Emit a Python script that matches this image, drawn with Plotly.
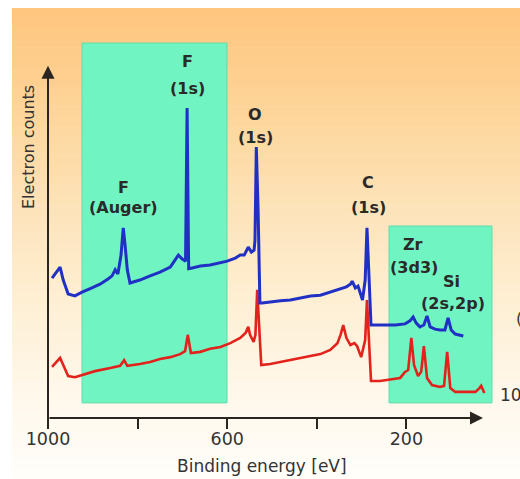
import plotly.graph_objects as go

# ---------------- data (binding energy in eV, counts in arbitrary units) ----------------
blue_energy = [991, 982, 973, 966, 955, 940, 924, 902, 884, 866, 857, 850, 844, 837, 832, 828, 823, 817,
               795, 772, 750, 727, 716, 709, 701, 693, 689.5, 686, 678, 660, 638, 615, 600, 582, 571, 562,
               553, 546, 540, 538, 535, 531, 527, 522, 504, 481, 459, 437, 414, 392, 370, 347, 334, 325,
               321, 314, 308, 298, 292, 288, 284, 279, 270, 248, 225, 203, 192, 185, 178, 170, 161, 154,
               147, 136, 125, 114, 107, 100, 91, 73]
blue_counts = [37.0, 38.6, 39.9, 36.5, 32.8, 32.3, 33.3, 34.4, 35.4, 36.8, 37.6, 39.2, 38.1, 43.1, 50.3, 45.8, 39.2, 35.7,
               36.5, 37.6, 38.6, 39.9, 41.8, 43.1, 42.1, 41.5, 82.0, 39.5, 39.7, 40.2, 40.5, 41.0, 41.5, 42.3, 43.1, 43.1,
               45.2, 43.9, 44.4, 47.0, 71.7, 55.0, 30.4, 30.4, 30.7, 31.0, 31.2, 31.7, 32.3, 32.5, 33.3, 34.1, 34.7, 35.4,
               36.2, 34.4, 34.9, 31.2, 36.5, 50.3, 39.2, 24.6, 24.6, 24.6, 24.6, 24.9, 25.7, 26.7, 25.1, 24.1, 24.6, 27.0,
               24.1, 23.5, 23.3, 23.3, 26.5, 23.3, 22.2, 21.7]

red_energy = [991, 982, 973, 966, 955, 940, 924, 895, 861, 839, 830, 823, 795, 772, 750, 727, 705, 694, 688,
              681, 660, 638, 615, 593, 571, 559, 553, 549, 541, 537, 533, 528, 524, 504, 481, 459, 437, 414,
              392, 370, 354, 347, 341, 334, 325, 316, 310, 301, 292, 288, 284, 279, 259, 237, 214, 203, 196,
              189, 183, 174, 167, 161, 154, 143, 125, 116, 109, 102, 91, 69, 46, 37, 33, 26]
red_counts = [13.5, 14.8, 15.9, 14.0, 11.1, 10.8, 11.4, 12.4, 13.2, 13.8, 15.3, 13.8, 14.3, 14.8, 15.6, 16.1, 16.9, 17.7, 22.0,
              17.2, 17.5, 18.3, 18.8, 19.8, 21.2, 22.5, 24.1, 22.0, 20.1, 22.0, 33.9, 23.3, 14.0, 14.3, 14.8, 15.3, 15.9, 16.4,
              16.9, 18.0, 19.8, 22.0, 24.6, 21.2, 19.3, 19.8, 19.0, 16.1, 20.6, 31.2, 20.6, 9.8, 9.8, 10.1, 10.6, 12.2, 12.7,
              21.2, 14.0, 11.1, 12.2, 19.0, 10.6, 8.7, 8.2, 8.5, 17.5, 7.9, 6.9, 6.9, 6.9, 7.9, 8.5, 6.6]

# peak labels: (text, energy, counts)
label_text = ["F", "(Auger)", "F", "(1s)", "O", "(1s)", "C", "(1s)", "Zr", "(3d3)", "Si", "(2s,2p)"]
label_energy = [832.6, 832.6, 689.7, 689.7, 537.9, 537.9, 285.7, 285.7, 185.3, 183.0, 99.0, 96.0]
label_counts = [61.1, 55.6, 94.2, 87.3, 80.2, 74.3, 62.4, 55.8, 45.8, 39.7, 36.0, 30.2]

# highlighted regions (energy from, energy to, counts from, counts to)
region_e0 = [924.1, 238.8]
region_e1 = [600.4, 8.9]
region_c0 = [4.0, 4.0]
region_c1 = [99.2, 50.8]

tick_vals = [1000, 800, 600, 400, 200]
tick_text = ["1000", "", "600", "", "200"]

x_range = [1000, 0]
y_range = [0, 100]

# ---------------- layout helpers ----------------
W, H = 520, 479
ML, MR, MT, MB = 48, 24, 40, 61
PW, PH = W - ML - MR, H - MT - MB


def px2paper_x(px):
    return (px - ML) / PW


def py2paper_y(py):
    return (H - MB - py) / PH


def lerp(c0, c1, t):
    return tuple(int(round(a + (b - a) * t)) for a, b in zip(c0, c1))


# background gradient stops (pixel y, rgb)
stops = [(8, (255, 197, 126)), (100, (253, 211, 150)), (200, (253, 226, 182)),
         (300, (254, 239, 212)), (400, (255, 248, 236)), (479, (255, 254, 250))]

shapes = []
n = 48
y0p, y1p = 8, 479
for i in range(n):
    a = y0p + (y1p - y0p) * i / n
    b = y0p + (y1p - y0p) * (i + 1) / n
    mid = (a + b) / 2
    for j in range(len(stops) - 1):
        if stops[j][0] <= mid <= stops[j + 1][0]:
            t = (mid - stops[j][0]) / (stops[j + 1][0] - stops[j][0])
            col = lerp(stops[j][1], stops[j + 1][1], t)
            break
    shapes.append(dict(type="rect", xref="paper", yref="paper",
                       x0=px2paper_x(12), x1=px2paper_x(525),
                       y0=py2paper_y(b + 0.6), y1=py2paper_y(a),
                       fillcolor="rgb(%d,%d,%d)" % col, line=dict(width=0), layer="below"))

for e0, e1, c0, c1 in zip(region_e0, region_e1, region_c0, region_c1):
    shapes.append(dict(type="rect", xref="x", yref="y", x0=e0, x1=e1, y0=c0, y1=c1,
                       fillcolor="#6ff4c2", line=dict(color="#62dcaa", width=1), layer="below"))

fig = go.Figure()
fig.add_trace(go.Scatter(x=red_energy, y=red_counts, mode="lines",
                         line=dict(color="#e3221c", width=2.6), hoverinfo="skip", cliponaxis=False))
fig.add_trace(go.Scatter(x=blue_energy, y=blue_counts, mode="lines",
                         line=dict(color="#2130c4", width=3), hoverinfo="skip", cliponaxis=False))

annotations = []
label_font = dict(family="DejaVu Sans", size=16, color="#2a2a2a")
for t, e, c in zip(label_text, label_energy, label_counts):
    annotations.append(dict(x=e, y=c, xref="x", yref="y", text="<b>%s</b>" % t,
                            showarrow=False, font=label_font, xanchor="center", yanchor="middle"))

# axis arrows
annotations.append(dict(x=29, y=0, ax=1000, ay=0, xref="x", yref="y", axref="x", ayref="y",
                        text="", showarrow=True, arrowhead=2, arrowsize=1.3, arrowwidth=2,
                        arrowcolor="#2a2520"))
annotations.append(dict(x=1000, y=93.2, ax=1000, ay=-3.0, xref="x", yref="y", axref="x", ayref="y",
                        text="", showarrow=True, arrowhead=2, arrowsize=1.3, arrowwidth=2,
                        arrowcolor="#2a2520"))

# axis titles
annotations.append(dict(x=px2paper_x(262), y=py2paper_y(466), xref="paper", yref="paper",
                        text="Binding energy [eV]", showarrow=False,
                        xanchor="center", yanchor="middle",
                        font=dict(family="DejaVu Sans", size=17, color="#333333")))
annotations.append(dict(x=px2paper_x(28), y=py2paper_y(147), xref="paper", yref="paper",
                        text="Electron counts", textangle=-90, showarrow=False,
                        xanchor="center", yanchor="middle",
                        font=dict(family="DejaVu Sans", size=16, color="#333333")))

# labels cut off at the right edge of the original picture
annotations.append(dict(x=px2paper_x(498), y=py2paper_y(395), xref="paper", yref="paper",
                        text="100", showarrow=False, xanchor="left", yanchor="middle",
                        font=dict(family="DejaVu Sans", size=17, color="#333333")))
annotations.append(dict(x=px2paper_x(514), y=py2paper_y(318), xref="paper", yref="paper",
                        text="(", showarrow=False, xanchor="left", yanchor="middle",
                        font=dict(family="DejaVu Sans", size=16, color="#333333")))

fig.update_layout(
    width=W, height=H,
    margin=dict(l=ML, r=MR, t=MT, b=MB),
    paper_bgcolor="white", plot_bgcolor="rgba(0,0,0,0)",
    showlegend=False,
    hovermode=False,
    shapes=shapes,
    annotations=annotations,
    xaxis=dict(range=x_range, showgrid=False, zeroline=False, showline=False,
               tickmode="array", tickvals=tick_vals, ticktext=tick_text,
               ticks="outside", ticklen=10, tickwidth=2, tickcolor="#2a2520",
               ticklabelstandoff=-5,
               tickfont=dict(family="DejaVu Sans", size=17.5, color="#333333")),
    yaxis=dict(range=y_range, showgrid=False, zeroline=False, showline=False,
               showticklabels=False, ticks=""),
)

fig.write_html("out.html", config={"displayModeBar": False},
               post_script="document.body.style.margin='0';")
